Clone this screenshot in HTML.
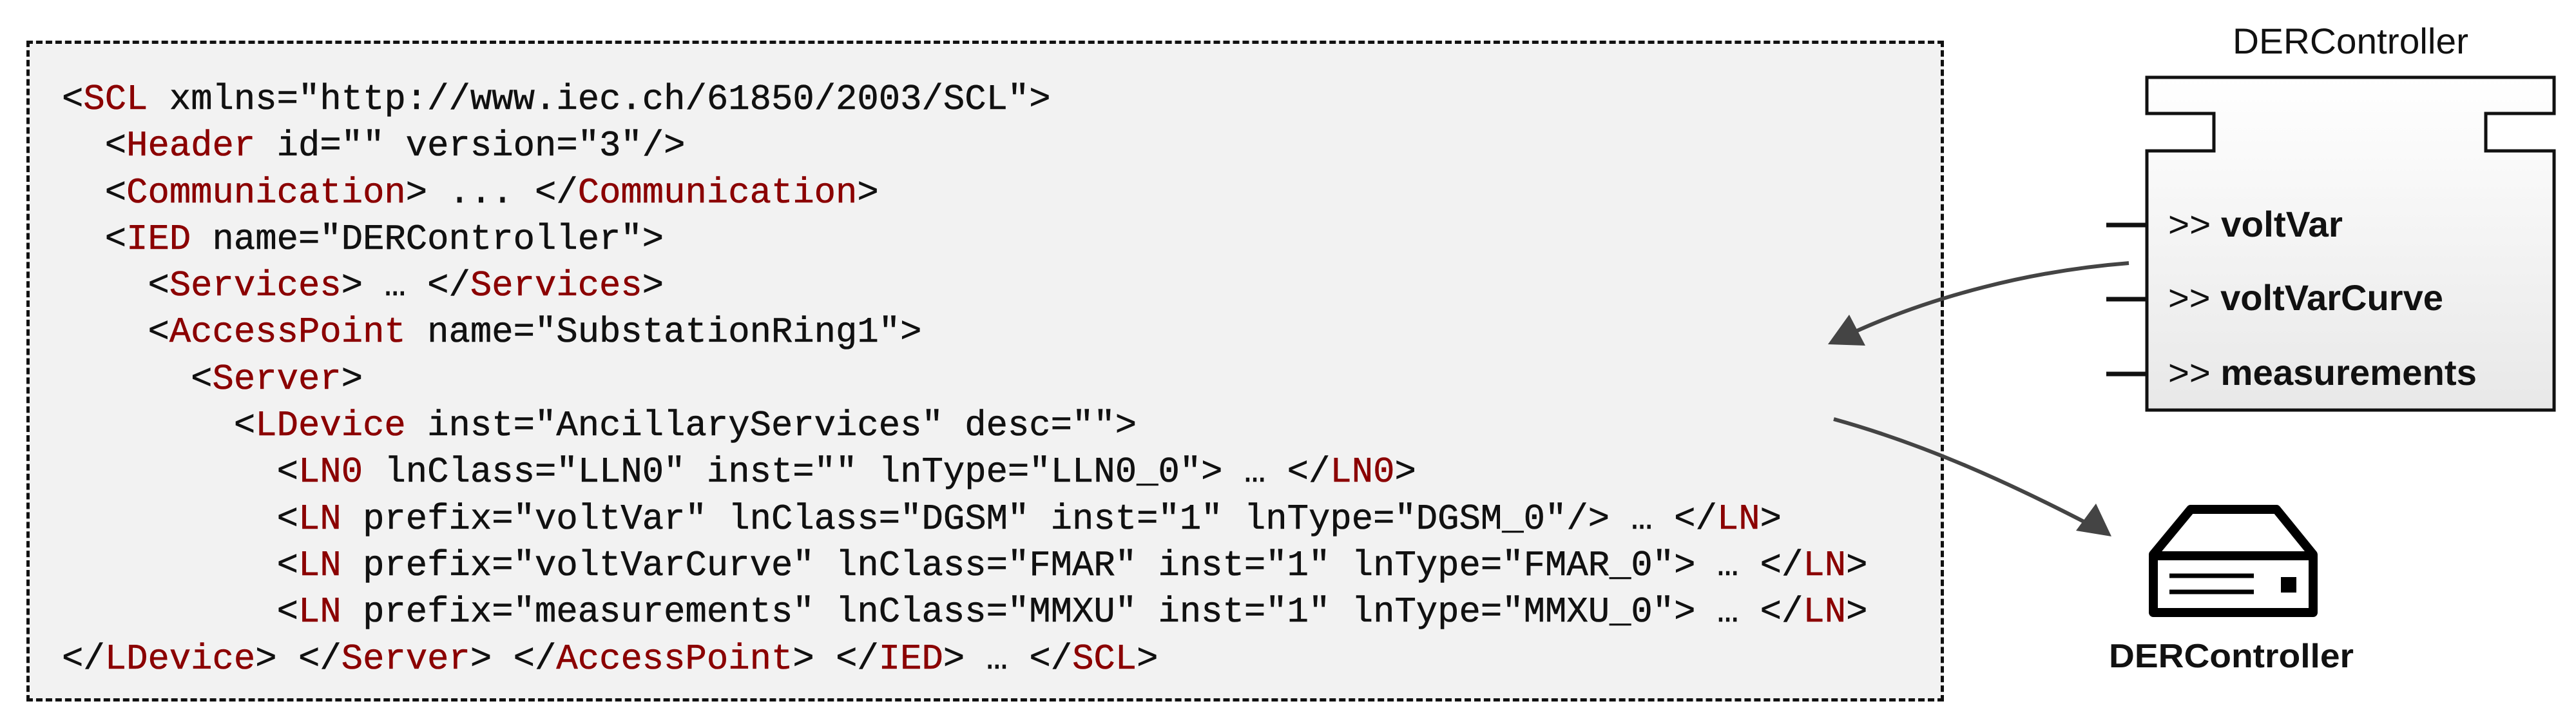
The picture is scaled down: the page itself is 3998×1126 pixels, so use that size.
<!DOCTYPE html>
<html><head><meta charset="utf-8"><style>
html,body{margin:0;padding:0;background:#fff;}
body{width:3998px;height:1126px;position:relative;overflow:hidden;}
#box{position:absolute;left:41px;top:63px;width:2976px;height:1025px;background:#f2f2f2;border:5px dashed #111;box-sizing:border-box;}
#code{position:absolute;left:96px;top:119px;font-family:"Liberation Mono",monospace;font-size:55.6px;line-height:72.3px;white-space:pre;color:#111;-webkit-text-stroke:0.6px #111;}
.t{color:#8b0000;-webkit-text-stroke:0.6px #8b0000;}
svg{position:absolute;left:0;top:0;}
</style></head><body>
<div id="box"></div>
<div id="code">&lt;<span class="t">SCL</span> xmlns="http://www.iec.ch/61850/2003/SCL"&gt;
  &lt;<span class="t">Header</span> id="" version="3"/&gt;
  &lt;<span class="t">Communication</span>&gt; ... &lt;/<span class="t">Communication</span>&gt;
  &lt;<span class="t">IED</span> name="DERController"&gt;
    &lt;<span class="t">Services</span>&gt; … &lt;/<span class="t">Services</span>&gt;
    &lt;<span class="t">AccessPoint</span> name="SubstationRing1"&gt;
      &lt;<span class="t">Server</span>&gt;
        &lt;<span class="t">LDevice</span> inst="AncillaryServices" desc=""&gt;
          &lt;<span class="t">LN0</span> lnClass="LLN0" inst="" lnType="LLN0_0"&gt; … &lt;/<span class="t">LN0</span>&gt;
          &lt;<span class="t">LN</span> prefix="voltVar" lnClass="DGSM" inst="1" lnType="DGSM_0"/&gt; … &lt;/<span class="t">LN</span>&gt;
          &lt;<span class="t">LN</span> prefix="voltVarCurve" lnClass="FMAR" inst="1" lnType="FMAR_0"&gt; … &lt;/<span class="t">LN</span>&gt;
          &lt;<span class="t">LN</span> prefix="measurements" lnClass="MMXU" inst="1" lnType="MMXU_0"&gt; … &lt;/<span class="t">LN</span>&gt;
&lt;/<span class="t">LDevice</span>&gt; &lt;/<span class="t">Server</span>&gt; &lt;/<span class="t">AccessPoint</span>&gt; &lt;/<span class="t">IED</span>&gt; … &lt;/<span class="t">SCL</span>&gt;</div>
<svg width="3998" height="1126" viewBox="0 0 3998 1126">
<defs>
<linearGradient id="g" x1="0" y1="0" x2="0" y2="1"><stop offset="0" stop-color="#ffffff"/><stop offset="1" stop-color="#e8e8e8"/></linearGradient>
</defs>
<text x="3465" y="83" font-family="Liberation Sans, sans-serif" font-size="56" textLength="366" lengthAdjust="spacingAndGlyphs" fill="#111">DERController</text>
<path d="M3332 120 H3964 V176 H3858 V234 H3964 V636 H3332 V234 H3436 V176 H3332 Z" fill="url(#g)" stroke="#111" stroke-width="5"/>
<g stroke="#111" stroke-width="7"><line x1="3269" y1="349" x2="3332" y2="349"/><line x1="3269" y1="464" x2="3332" y2="464"/><line x1="3269" y1="580" x2="3332" y2="580"/></g>
<g font-family="Liberation Sans, sans-serif" font-size="56" fill="#111">
<text x="3365" y="367" textLength="271" lengthAdjust="spacingAndGlyphs">&gt;&gt; <tspan font-weight="bold">voltVar</tspan></text>
<text x="3365" y="481" textLength="427" lengthAdjust="spacingAndGlyphs">&gt;&gt; <tspan font-weight="bold">voltVarCurve</tspan></text>
<text x="3365" y="597" textLength="479" lengthAdjust="spacingAndGlyphs">&gt;&gt; <tspan font-weight="bold">measurements</tspan></text>
</g>
<g stroke="#444" stroke-width="6" fill="none">
<path d="M3304 408 C3150 420 3000 460 2880 514"/>
<path d="M2846 650 C2990 690 3120 750 3240 812"/>
</g>
<polygon points="2837,534 2870,488 2895,536" fill="#444"/>
<polygon points="3277,832 3253,781 3222,823" fill="#444"/>
<g stroke="#000" stroke-width="14" fill="none" stroke-linejoin="round">
<path d="M3400 790 H3533 L3590 860 V950 H3342 V860 Z"/>
<line x1="3342" y1="862" x2="3590" y2="862"/>
</g>
<g stroke="#000" stroke-width="7"><line x1="3367" y1="893" x2="3498" y2="893"/><line x1="3367" y1="918" x2="3498" y2="918"/></g>
<rect x="3540" y="895" width="24" height="24" fill="#000"/>
<text x="3273" y="1035" font-family="Liberation Sans, sans-serif" font-size="52" font-weight="bold" textLength="380" lengthAdjust="spacingAndGlyphs" fill="#111">DERController</text>
</svg>
</body></html>
